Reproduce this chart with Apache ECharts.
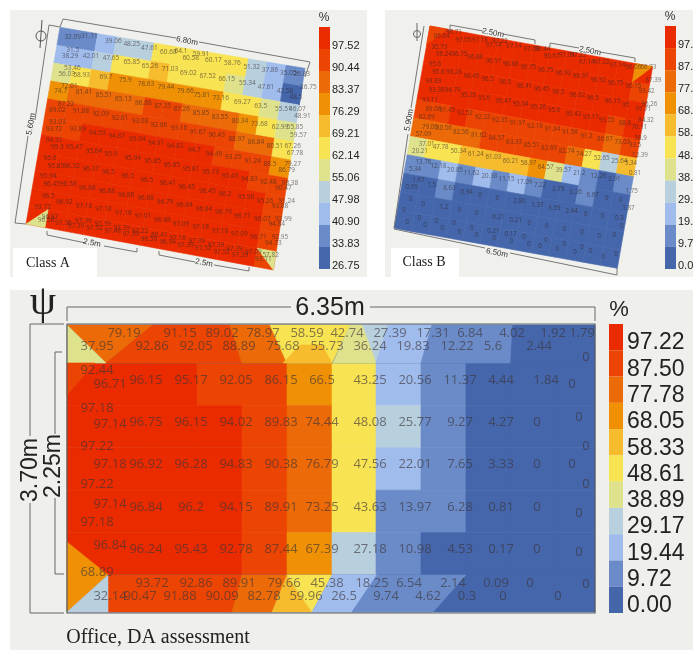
<!DOCTYPE html>
<html><head><meta charset="utf-8">
<style>html,body{margin:0;padding:0;background:#fff}#c{width:693px;height:650px}</style>
<script src="https://cdn.jsdelivr.net/npm/echarts@6/dist/echarts.min.js"></script>
</head><body><div id="c"></div>
<script>
// ---------- legend ticks ----------
const ticksA = ['97.52','90.44','83.37','76.29','69.21','62.14','55.06','47.98','40.90','33.83','26.75'];
const ticksB = ['97.22','87.50','77.78','68.05','58.33','48.61','38.89','29.17','19.44','9.72','0.00'];
const ticksC = ticksB;
const swatches = ['#ea2b00','#ec4503','#ec6a07','#f09105','#f6bc2d','#f8e353','#dfe28c','#b8cfdd','#a0bcec','#6a8bc8','#4566ab'];
// class breaks between swatches
const breaksA = [94,86.9,79.8,72.75,69.5,58.6,51.5,44.4,37.4,30.3];
const breaksB = [92.5,82.6,72.9,63.2,53.5,42.5,34,24.3,14.6,4.86];
const breaksC = breaksB;

// ---------- Class A: zone values (row by row) ----------
const zonesA = [
 [32.09,31.11,39.06,48.25,47.61,60.68,64.1,59.91,60.17,58.76,51.32,37.86,35.05],
 [38.29,42.01,47.65,65.85,65.26,71.03,69.02,67.52,66.15,55.34,47.61,42.58,26.83],
 [56.03,58.93,69.7,75.9,78.63,79.44,79.66,75.81,73.16,69.27,63.5,55.51,46.07],
 [74.7,81.41,85.51,85.13,86.88,87.35,87.26,85.85,83.55,80.34,73.68,62.99,55.85],
 [89.02,91.88,92.09,92.61,93.08,92.86,93.16,91.67,90.43,88.97,86.84,80.51,67.26],
 [93.72,93.89,94.53,94.87,95.04,94.91,94.83,94.7,94.49,93.25,91.24,88.5,79.27],
 [95.3,95.47,95.64,95.9,95.94,95.85,95.85,95.81,95.73,95.43,94.83,92.48,88.38],
 [95.85,96.32,96.37,96.5,96.5,96.5,96.41,96.45,96.45,96.2,95.98,95.26,91.24],
 [96.45,96.58,96.88,96.88,96.88,96.88,96.79,96.84,96.84,96.79,96.71,96.07,92.99],
 [96.92,97.18,97.18,97.18,97.01,96.88,97.09,97.18,97.18,97.09,96.71,96.07,92.95],
 [97.36,97.39,97.52,97.39,97.22,96.58,97.18,97.39,97.39,97.39,97.09,97.09,93.11]
];
const cornersA = [[10,0,'br',56.58],[10,12,'tr',57.82],[1,12,'tr',26.75]];
// measurement points in plan units: [x, y, value]
const pointsA = [
[218,112,32.09],[268,108,31.11],[340,124,39.06],[395,132,48.25],[448,143,47.61],[505,155,60.68],[543,153,64.1],[603,162,59.91],
[218,150,31.5],[210,167,38.29],[273,167,42.01],[333,175,47.65],[395,187,65.85],[450,197,65.26],[510,208,71.03],[565,218,69.02],[623,228,67.52],[680,238,66.15],[742,250,55.34],[798,260,47.61],[855,272,42.58],[888,290,48.5],
[572,175,60.58],[640,180,60.17],[697,190,58.76],[755,200,51.32],[810,210,37.86],[865,220,35.05],[905,222,26.83],[925,260,26.75],
[217,205,53.46],[200,222,56.03],[245,224,58.93],[318,231,69.7],[376,241,75.9],[438,253,78.63],[498,262,79.44],[556,273,79.66],[605,284,75.81],[662,295,73.16],[727,306,69.27],[782,317,63.5],[850,327,55.51],[892,327,46.07],[907,349,48.91],
[208,258,72.01],[182,273,74.7],[252,277,81.41],[312,286,85.51],[370,297,85.13],[430,308,86.88],[488,317,87.35],[545,328,87.26],[603,339,85.85],[660,350,83.55],[720,362,80.34],[778,372,73.68],[840,382,62.99],[885,382,55.85],[895,404,59.57],
[198,313,87.22],[172,330,89.02],[243,332,91.88],[302,342,92.09],[360,353,92.61],[420,363,93.08],[477,374,92.86],[537,384,93.16],[593,395,91.67],[650,405,90.43],[710,417,88.97],[768,427,86.84],[825,437,80.51],[878,437,67.26],[885,459,67.78],
[172,365,93.03],[162,386,93.72],[233,387,93.89],[292,398,94.53],[350,408,94.87],[412,418,95.04],[468,429,94.91],[525,439,94.83],[583,450,94.7],[642,461,94.49],[700,472,93.25],[758,483,91.24],[810,493,88.5],[878,492,79.27],[860,510,86.79],
[162,420,94.32],[172,441,95.3],[223,442,95.47],[282,452,95.64],[333,463,95.9],[398,473,95.94],[458,484,95.85],[515,495,95.85],[573,506,95.81],[632,516,95.73],[690,527,95.43],[748,537,94.83],[805,547,92.48],[870,548,88.38],[850,565,90.47],
[150,474,95.6],[168,497,95.85],[215,497,96.32],[272,507,96.37],[325,517,96.5],[383,528,96.5],[440,540,96.5],[503,550,96.41],[560,561,96.45],[622,572,96.45],[675,582,96.2],[738,592,95.98],[795,603,95.26],[860,603,91.24],[840,618,93.08],
[145,529,95.94],[155,551,96.45],[205,552,96.58],[262,563,96.88],[320,573,96.88],[378,584,96.88],[437,594,96.88],[495,605,96.79],[553,616,96.84],[612,627,96.84],[670,637,96.79],[727,648,96.71],[787,658,96.07],[850,657,92.99],[830,673,94.84],
[145,588,96.5],[128,620,93.72],[193,606,96.92],[252,618,97.18],[310,628,97.18],[370,638,97.18],[428,649,97.01],[487,660,96.88],[543,671,97.09],[602,681,97.18],[660,692,97.18],[718,702,97.09],[775,712,96.71],[840,712,92.95],[820,729,94.73],
[150,650,96.92],[138,660,96.58],[190,668,97.36],[250,663,97.39],[228,677,97.39],[308,672,97.39],[283,684,97.52],[365,683,97.39],[338,694,97.48],[420,693,97.22],[392,703,97.39],[478,705,86.41],[447,716,96.58],[533,714,97.18],[503,725,96.94],[590,724,97.39],[557,735,97.39],[648,735,97.39],[610,745,97.52],[703,746,97.39],[665,755,97.52],[760,755,97.09],[720,765,97.39],[812,765,57.82],[790,777,93.11]
];

// ---------- Class B ----------
const zonesB = [
 [95.73,97.05,97.18,97.14,97.22,97.14,97.09,96.67,97.09,97.22,97.14,97.22,97.14],
 [96.24,96.75,96.88,96.97,96.88,96.75,96.75,96.92,96.97,96.92,96.75,96.15,87.39],
 [95.6,96.28,96.45,96.5,96.5,96.41,96.45,96.5,96.62,96.5,96.15,95,93.42],
 [93.38,94.79,95.26,95.6,95.47,95.04,95.26,95.6,95.43,95.17,93.55,88.8,96.26],
 [89.06,91.45,92.52,92.22,92.35,91.97,92.18,91.84,91.58,91.2,86.67,73.03,84.32],
 [79.06,80.56,82.56,81.62,84.57,83.33,85.51,82.69,82.74,74.27,52.65,25.64,58.9],
 [37.01,47.78,50.34,61.24,61.03,60.21,58.97,64.57,39.57,21.2,12.26,2.91,12.39],
 [13.76,12.18,20.85,11.62,20.38,11.15,17.09,7.22,2.78,0.26,6.67,0,0.81],
 [1.67,1.5,8.63,0.94,0,0,2.86,1.37,3.59,2.44,0,0,1.75],
 [0,0,1.2,0,0,0.21,0.21,0,0,0,0,0,1.87],
 [0,0,0,0,0,0,0,0,0,0,0,0,0]
];
const cornersB = [[0,0,'tl',86.64],[0,12,'tl',66.73]];
const pointsB = [
[215,108,86.64],[252,97,96.71],[280,120,97.05],[330,120,97.18],[370,135,97.14],[390,124,97.22],[432,138,97.14],[484,148,97.09],[517,148,93.44],[545,168,96.67],[590,165,97.09],[625,165,97.22],[650,187,97.14],[695,188,97.22],[742,197,97.14],[790,203,96.06],[835,203,66.73],
[208,142,95.73],[222,163,96.24],[268,163,96.75],[315,173,96.88],[370,183,96.97],[422,192,96.88],[475,202,96.75],[527,211,96.75],[580,220,96.92],[632,230,96.97],[685,240,96.92],[737,250,96.75],[790,258,96.15],[850,240,87.39],
[195,193,95.6],[205,218,95.6],[252,218,96.28],[305,230,96.45],[353,238,96.5],[405,248,96.5],[463,258,96.41],[515,267,96.45],[565,277,96.5],[622,287,96.62],[668,296,96.5],[728,305,96.15],[767,315,95],[830,275,93.42],
[190,245,93.89],[200,272,93.38],[248,272,94.79],[295,285,95.26],[342,295,95.6],[400,304,95.47],[452,313,95.04],[505,323,95.26],[552,332,95.6],[610,343,95.43],[663,352,95.17],[710,362,93.55],[765,371,88.8],[838,312,96.26],[820,328,97.71],
[180,300,93.11],[190,327,89.06],[232,330,91.45],[285,341,92.52],[338,351,92.22],[390,360,92.35],[442,370,91.97],[495,379,92.18],[547,388,91.84],[600,398,91.58],[650,408,91.2],[705,418,86.67],[757,427,73.03],[828,362,84.32],[808,382,76.11],
[170,352,82.69],[180,381,79.06],[222,386,80.56],[273,397,82.56],[327,405,81.62],[380,416,84.57],[432,426,83.33],[485,435,85.51],[537,445,82.69],[590,455,82.74],[642,463,74.27],[695,474,52.65],[748,484,25.64],[812,415,58.9],[795,437,33.5],
[160,403,57.09],[170,434,37.01],[212,442,47.78],[265,454,50.34],[318,464,61.24],[370,473,61.03],[422,483,60.21],[475,491,58.97],[527,502,64.57],[580,511,39.57],[628,521,21.2],[685,530,12.26],[733,538,2.91],[810,467,12.39],[783,490,5.34],
[150,455,20.21],[160,487,13.76],[205,498,12.18],[255,510,20.85],[305,520,11.62],[358,530,20.38],[410,538,11.15],[463,548,17.09],[510,557,7.22],[565,567,2.78],[617,577,0.26],[668,587,6.67],[710,596,0],[795,520,0.81],
[135,509,5.34],[145,542,1.67],[125,562,0.09],[185,557,1.5],[238,566,8.63],[290,576,0.94],[330,585,0],[382,595,0],[448,605,2.86],[502,615,1.37],[553,624,3.59],[605,633,2.44],[647,642,0],[698,650,0],[752,600,0],[785,573,1.75],
[122,597,0],[160,612,0],[222,622,1.2],[268,632,0],[320,640,0],[385,651,0.21],[437,660,0.21],[478,670,0],[530,679,0],[583,689,0],[636,698,0],[688,708,0],[733,707,0],[748,654,0.3],[775,625,1.87],
[102,630,0],[148,656,0],[112,666,0],[165,675,0],[200,665,0],[217,686,0],[252,670,0],[268,696,0],[305,684,0],[320,705,0],[370,693,0.21],[372,714,0],[422,703,0.17],[424,724,0],[462,713,0],[476,733,0],[510,740,0],[528,722,0],[562,748,0],[583,733,0],[615,757,0],[636,742,0],[662,755,0],[700,773,0],[738,762,0],[755,680,0]
];

// ---------- Office, DA assessment ----------
const zonesC = [
 [96.71,96.15,95.17,92.05,86.15,66.5,43.25,20.56,11.37,4.44,1.84,0],
 [97.14,96.75,96.15,94.02,89.83,74.44,48.08,25.77,9.27,4.27,0,0],
 [97.18,96.92,96.28,94.83,90.38,76.79,47.56,22.01,7.65,3.33,0,0],
 [97.14,96.84,96.2,94.15,89.91,73.25,43.63,13.97,6.28,0.81,0,0],
 [96.84,96.24,95.43,92.78,87.44,67.39,27.18,10.98,4.53,0.17,0,0]
];
const pointsC = [
[124,333,79.19],[180,333,91.15],[222,333,89.02],[263,333,78.97],[307,333,58.59],[347,333,42.74],[390,333,27.39],[433,333,17.31],[470,333,6.84],[512,333,4.02],[553,333,1.92],[582,333,1.79],
[97,346,37.95],[152,346,92.86],[196,346,92.05],[239,346,88.89],[283,346,75.68],[327,346,55.73],[370,346,36.24],[413,346,19.83],[457,346,12.22],[493,346,5.6],[539,346,2.44],[586,357,0],
[97,370,92.44],[110,384,96.71],[146,380,96.15],[191,380,95.17],[236,380,92.05],[281,380,86.15],[322,380,66.5],[370,380,43.25],[415,380,20.56],[460,380,11.37],[501,380,4.44],[546,380,1.84],[572,384,0],
[97,408,97.18],[110,424,97.14],[146,422,96.75],[191,422,96.15],[236,422,94.02],[281,422,89.83],[322,422,74.44],[370,422,48.08],[415,422,25.77],[460,422,9.27],[501,422,4.27],[537,422,0],[579,417,0],
[97,446,97.22],[110,464,97.18],[146,464,96.92],[191,464,96.28],[236,464,94.83],[281,464,90.38],[322,464,76.79],[370,464,47.56],[415,464,22.01],[460,464,7.65],[501,464,3.33],[537,464,0],[572,464,0],[586,446,0],
[97,484,97.22],[110,504,97.14],[146,507,96.84],[191,507,96.2],[236,507,94.15],[281,507,89.91],[322,507,73.25],[370,507,43.63],[415,507,13.97],[460,507,6.28],[501,507,0.81],[537,507,0],[579,513,0],[586,484,0],
[97,522,97.18],[110,545,96.84],[146,549,96.24],[191,549,95.43],[236,549,92.78],[281,549,87.44],[322,549,67.39],[370,549,27.18],[415,549,10.98],[460,549,4.53],[501,549,0.17],[537,549,0],[579,552,0],
[97,572,68.89],[152,583,93.72],[196,583,92.86],[239,583,89.91],[284,583,79.66],[327,583,45.38],[372,583,18.25],[409,583,6.54],[453,583,2.14],[496,583,0.09],[530,583,0],[586,584,0],
[110,596,32.14],[140,596,90.47],[180,596,91.88],[222,596,90.09],[264,596,82.78],[306,596,59.96],[344,596,26.5],[386,596,9.74],[428,596,4.62],[467,596,0.3],[503,596,0],[558,596,0]
];
// irregular zones along the top and bottom walls: [value, x,y, x,y, ...]
const wallZonesC = [
 [0, 67,325, 595,325, 595,363, 67,363],
 [79.19, 67,325, 153,325, 106,363],
 [37.95, 67,325, 106,363, 67,363],
 [92.05, 153,325, 230,325, 242,363, 106,363],
 [78.97, 230,325, 270,325, 287,363, 242,363],
 [42.74, 270,325, 350,325, 332,363, 287,363],
 [55.73, 283,363, 300,345, 322,345, 332,363],
 [27.39, 355,325, 390,325, 376,363],
 [36.24, 333,363, 350,325, 362,325, 376,363],
 [19.83, 388,325, 432,325, 421,363, 376,363],
 [12.22, 432,325, 462,325, 467,363, 421,363],
 [5.6, 462,325, 512,325, 510,363, 467,363],
 [92.05, 67,363, 95,363, 67,395],
 [0, 67,575, 595,575, 595,612, 67,612],
 [91.88, 108,575, 242,575, 232,612, 108,612],
 [79.66, 242,575, 287,575, 272,612, 232,612],
 [59.96, 272,612, 287,575, 300,595, 312,612],
 [45.38, 287,575, 332,575, 312,612, 300,595],
 [18.25, 332,575, 377,575, 352,612, 312,612],
 [9.74, 377,575, 421,575, 393,612, 352,612],
 [6.54, 421,575, 466,575, 433,612, 393,612],
 [68.89, 67,542, 108,575, 67,612],
 [32.14, 67,612, 108,575, 108,612]
];

// ---------- plan geometry (axis units, not data) ----------
const quadA = [[180,82],[915,205],[820,810],[78,672]];
const quadB = [[180,78],[848,200],[742,805],[72,685]];
const quadC = [[67,363],[595,363],[595,575],[67,575]];
const colEdgesC = [67,108,152,197,242,287,332,376,421,466,510,555,595];

function swatch(v, breaks){ let i=0; while(i<breaks.length && v<breaks[i]) i++; return swatches[i]; }
function bilinear(q,u,v){
  const x=(1-v)*((1-u)*q[0][0]+u*q[1][0])+v*((1-u)*q[3][0]+u*q[2][0]);
  const y=(1-v)*((1-u)*q[0][1]+u*q[1][1])+v*((1-u)*q[3][1]+u*q[2][1]);
  return [x,y];
}
function polyShape(api,pts,color){
  return {type:'polygon',shape:{points:pts.map(p=>api.coord(p))},
          style:{fill:color,stroke:color,lineWidth:0.6}};
}
function zoneSeries(gi,zones,quad,breaks,edges){
  const R=zones.length,C=zones[0].length,data=[];
  zones.forEach((r,i)=>r.forEach((v,j)=>data.push([i,j,v])));
  const U=j=>edges?(edges[j]-edges[0])/(edges[C]-edges[0]):j/C;
  return {type:'custom',xAxisIndex:gi,yAxisIndex:gi,silent:true,clip:false,z:2,data,
    encode:{x:1,y:0},
    renderItem(p,api){
      const i=api.value(0),j=api.value(1),v=api.value(2);
      return polyShape(api,[bilinear(quad,U(j),i/R),bilinear(quad,U(j+1),i/R),
        bilinear(quad,U(j+1),(i+1)/R),bilinear(quad,U(j),(i+1)/R)],swatch(v,breaks));
    }};
}
function cornerSeries(gi,corners,zones,quad,breaks){
  const R=zones.length,C=zones[0].length;
  return {type:'custom',xAxisIndex:gi,yAxisIndex:gi,silent:true,clip:false,z:3,
    data:corners.map((c,i)=>[i]),encode:{x:0,y:0},
    renderItem(p,api){
      const [r,c,k,v]=corners[p.dataIndex];
      const tl=bilinear(quad,c/C,r/R),tr=bilinear(quad,(c+1)/C,r/R),
            br=bilinear(quad,(c+1)/C,(r+1)/R),bl=bilinear(quad,c/C,(r+1)/R);
      const pts={tl:[tl,tr,bl],tr:[tl,tr,br],br:[tr,br,bl],bl:[tl,br,bl]}[k];
      return polyShape(api,pts,swatch(v,breaks));
    }};
}
function facetSeries(gi,facets,breaks){
  return {type:'custom',xAxisIndex:gi,yAxisIndex:gi,silent:true,clip:false,z:3,
    data:facets.map((f,i)=>[i]),encode:{x:0,y:0},
    renderItem(p,api){
      const f=facets[p.dataIndex],pts=[];
      for(let k=1;k<f.length;k+=2) pts.push([f[k],f[k+1]]);
      return polyShape(api,pts,swatch(f[0],breaks));
    }};
}
function labelSeries(gi,points,size,color){
  return {type:'scatter',xAxisIndex:gi,yAxisIndex:gi,symbolSize:0,silent:true,z:5,clip:false,
    data:points,
    label:{show:true,position:'inside',formatter:p=>String(p.value[2]),
      fontFamily:'"Open Sans",sans-serif',fontSize:size,color}};
}
function legendSeries(gi,ticks){
  return {type:'bar',xAxisIndex:gi,yAxisIndex:gi,barWidth:'100%',silent:true,z:2,
    data:ticks.map(()=>1),
    itemStyle:{color:p=>swatches[p.dataIndex]}};
}

// ---------- grids: 0-2 plans, 3-5 legend bars, 6-8 legend labels ----------
const grids=[
 {left:0,top:0,width:370,height:280},
 {left:370,top:0,width:323,height:280},
 {left:0,top:285,width:693,height:365},
 {left:319,top:27,width:11,height:242},
 {left:665,top:26,width:11,height:243},
 {left:609,top:324,width:14,height:289},
 {left:319,top:35,width:11,height:242},
 {left:665,top:34,width:11,height:243},
 {left:609,top:330,width:14,height:289}
].map(g=>Object.assign(g,{containLabel:false,outerBoundsMode:'none'}));
const hidden=(gi,min,max,inv)=>({type:'value',gridIndex:gi,min,max,show:false,inverse:!!inv});
const barY=(gi,ticks)=>({type:'category',gridIndex:gi,data:ticks,inverse:true,show:false});
const legendY=(gi,ticks,fs,mg)=>({type:'category',gridIndex:gi,data:ticks,inverse:true,position:'right',
  axisLine:{show:false},axisTick:{show:false},
  axisLabel:{show:true,interval:0,margin:mg,fontFamily:'"Liberation Sans",Arial,sans-serif',fontSize:fs,color:'#222'}});
const xAxes=[hidden(0,0,1110),hidden(1,0,969),hidden(2,0,693),hidden(3,0,1),hidden(4,0,1),hidden(5,0,1),
  hidden(6,0,1),hidden(7,0,1),hidden(8,0,1)];
const yAxes=[hidden(0,0,840,true),hidden(1,0,840,true),hidden(2,285,650,true),
  barY(3,ticksA),barY(4,ticksB),barY(5,ticksC),
  legendY(6,ticksA,11,2),legendY(7,ticksB,11,2),legendY(8,ticksC,23,4)];

// ---------- annotation helpers (page pixels) ----------
const lineCol='#777';
const seg=(pts,col,w)=>({type:'polyline',z:20,shape:{points:pts},style:{stroke:col||lineCol,lineWidth:w||1,fill:null}});
const txt=(s,x,y,fs,rot,fam,col)=>({type:'text',z:21,x,y,rotation:(rot||0)*Math.PI/180,
  style:{text:s,fill:col||'#333',fontSize:fs,fontFamily:fam||'"Liberation Sans",Arial,sans-serif',align:'center',verticalAlign:'middle'}});
const bg=(x,y,w,h,c)=>({type:'rect',z:-1,shape:{x,y,width:w,height:h},style:{fill:c}});
const box=(x,y,w,h)=>({type:'rect',z:19,shape:{x,y,width:w,height:h},style:{fill:'#fff'}});

const graphics=[
 bg(10,10,357,267,'#f0f1ed'),bg(385,10,308,267,'#f0f1ed'),bg(10,290,683,360,'#eff0ec'),
 // Class A dimensions
 seg([[60,27],[63,19],[176,38]]),seg([[199,42],[310,62],[305,77]]),
 seg([[60,27],[49,25],[35,120]]),seg([[28,136],[15,223],[26,224]]),
 seg([[47,231],[47,235],[86,243]]),seg([[104,246],[137,252],[137,248]]),
 seg([[159,251],[159,255],[195,262]]),seg([[214,265],[249,271],[249,267]]),
 txt('6.80m',187,41,8,-11),txt('5.60m',31,124,8,80),txt('2.5m',92,243,8,-11),txt('2.5m',204,263,8,-11),
 {type:'circle',z:20,shape:{cx:41,cy:36,r:5},style:{stroke:'#555',lineWidth:1,fill:null}},
 seg([[42,20],[40,48]],'#555',1),
 // Class B dimensions
 seg([[424,26],[411,108]]),seg([[408,134],[394,228]]),
 seg([[450,31],[450,25],[483,31]]),seg([[503,34],[535,40],[535,44]]),
 seg([[550,47],[550,43],[579,48]]),seg([[600,52],[635,58],[635,62]]),
 seg([[394,229],[485,248]]),seg([[510,253],[617,275],[617,268]]),
 txt('2.50m',493,33,8,-11),txt('2.50m',590,51,8,-11),txt('6.50m',497,253,8,-11),txt('5.90m',409,120,8,80),
 {type:'circle',z:20,shape:{cx:417,cy:34,r:3.5},style:{stroke:'#666',lineWidth:1,fill:null}},
 seg([[417,23],[417,41]],'#666',1),
 // Office dimensions
 seg([[67,321],[67,307],[291,307]],'#666',1),seg([[370,307],[595,307],[595,321]],'#666',1),
 txt('6.35m',330,308,25,0,null,'#222'),
 seg([[30,324],[64,324]],'#666',1),seg([[30,613],[64,613]],'#666',1),
 seg([[30,324],[30,436]],'#666',1),seg([[30,503],[30,613]],'#666',1),
 seg([[62,352],[55,352],[55,434]],'#666',1),seg([[55,498],[55,574],[64,574]],'#666',1),
 txt('3.70m',31,470,23,90,null,'#222'),txt('2.25m',54,466,23,90,null,'#222'),
 {type:'rect',z:20,shape:{x:67,y:324,width:528,height:289},style:{fill:null,stroke:'#5a5f66',lineWidth:1.2}},
 txt('\u03C8',43,303,42,0,'"Liberation Serif",serif','#222'),
 // titles and legend headers
 box(13,248,84,29),box(391,248,68,30),
 txt('Class A',48,263,14,0,'"Liberation Serif",serif','#222'),
 txt('Class B',424,262,14,0,'"Liberation Serif",serif','#222'),
 txt('Office, DA assessment',158,638,20,0,'"Liberation Serif",serif','#222'),
 txt('%',324,18,12),txt('%',670,17,12),txt('%',619,310,22,0,null,'#222')
];

const labelCol='rgba(48,38,42,0.78)';
const series=[
 zoneSeries(0,zonesA,quadA,breaksA),cornerSeries(0,cornersA,zonesA,quadA,breaksA),labelSeries(0,pointsA,6.5,labelCol),
 zoneSeries(1,zonesB,quadB,breaksB),cornerSeries(1,cornersB,zonesB,quadB,breaksB),labelSeries(1,pointsB,6.2,labelCol),
 zoneSeries(2,zonesC,quadC,breaksC,colEdgesC),facetSeries(2,wallZonesC,breaksC),labelSeries(2,pointsC,13,'rgba(60,52,56,0.8)'),
 legendSeries(3,ticksA),legendSeries(4,ticksB),legendSeries(5,ticksC)
];

const chart=echarts.init(document.getElementById('c'),null,{renderer:'canvas'});
chart.setOption({animation:false,backgroundColor:'#fff',grid:grids,xAxis:xAxes,yAxis:yAxes,series,graphic:graphics});
</script></body></html>
